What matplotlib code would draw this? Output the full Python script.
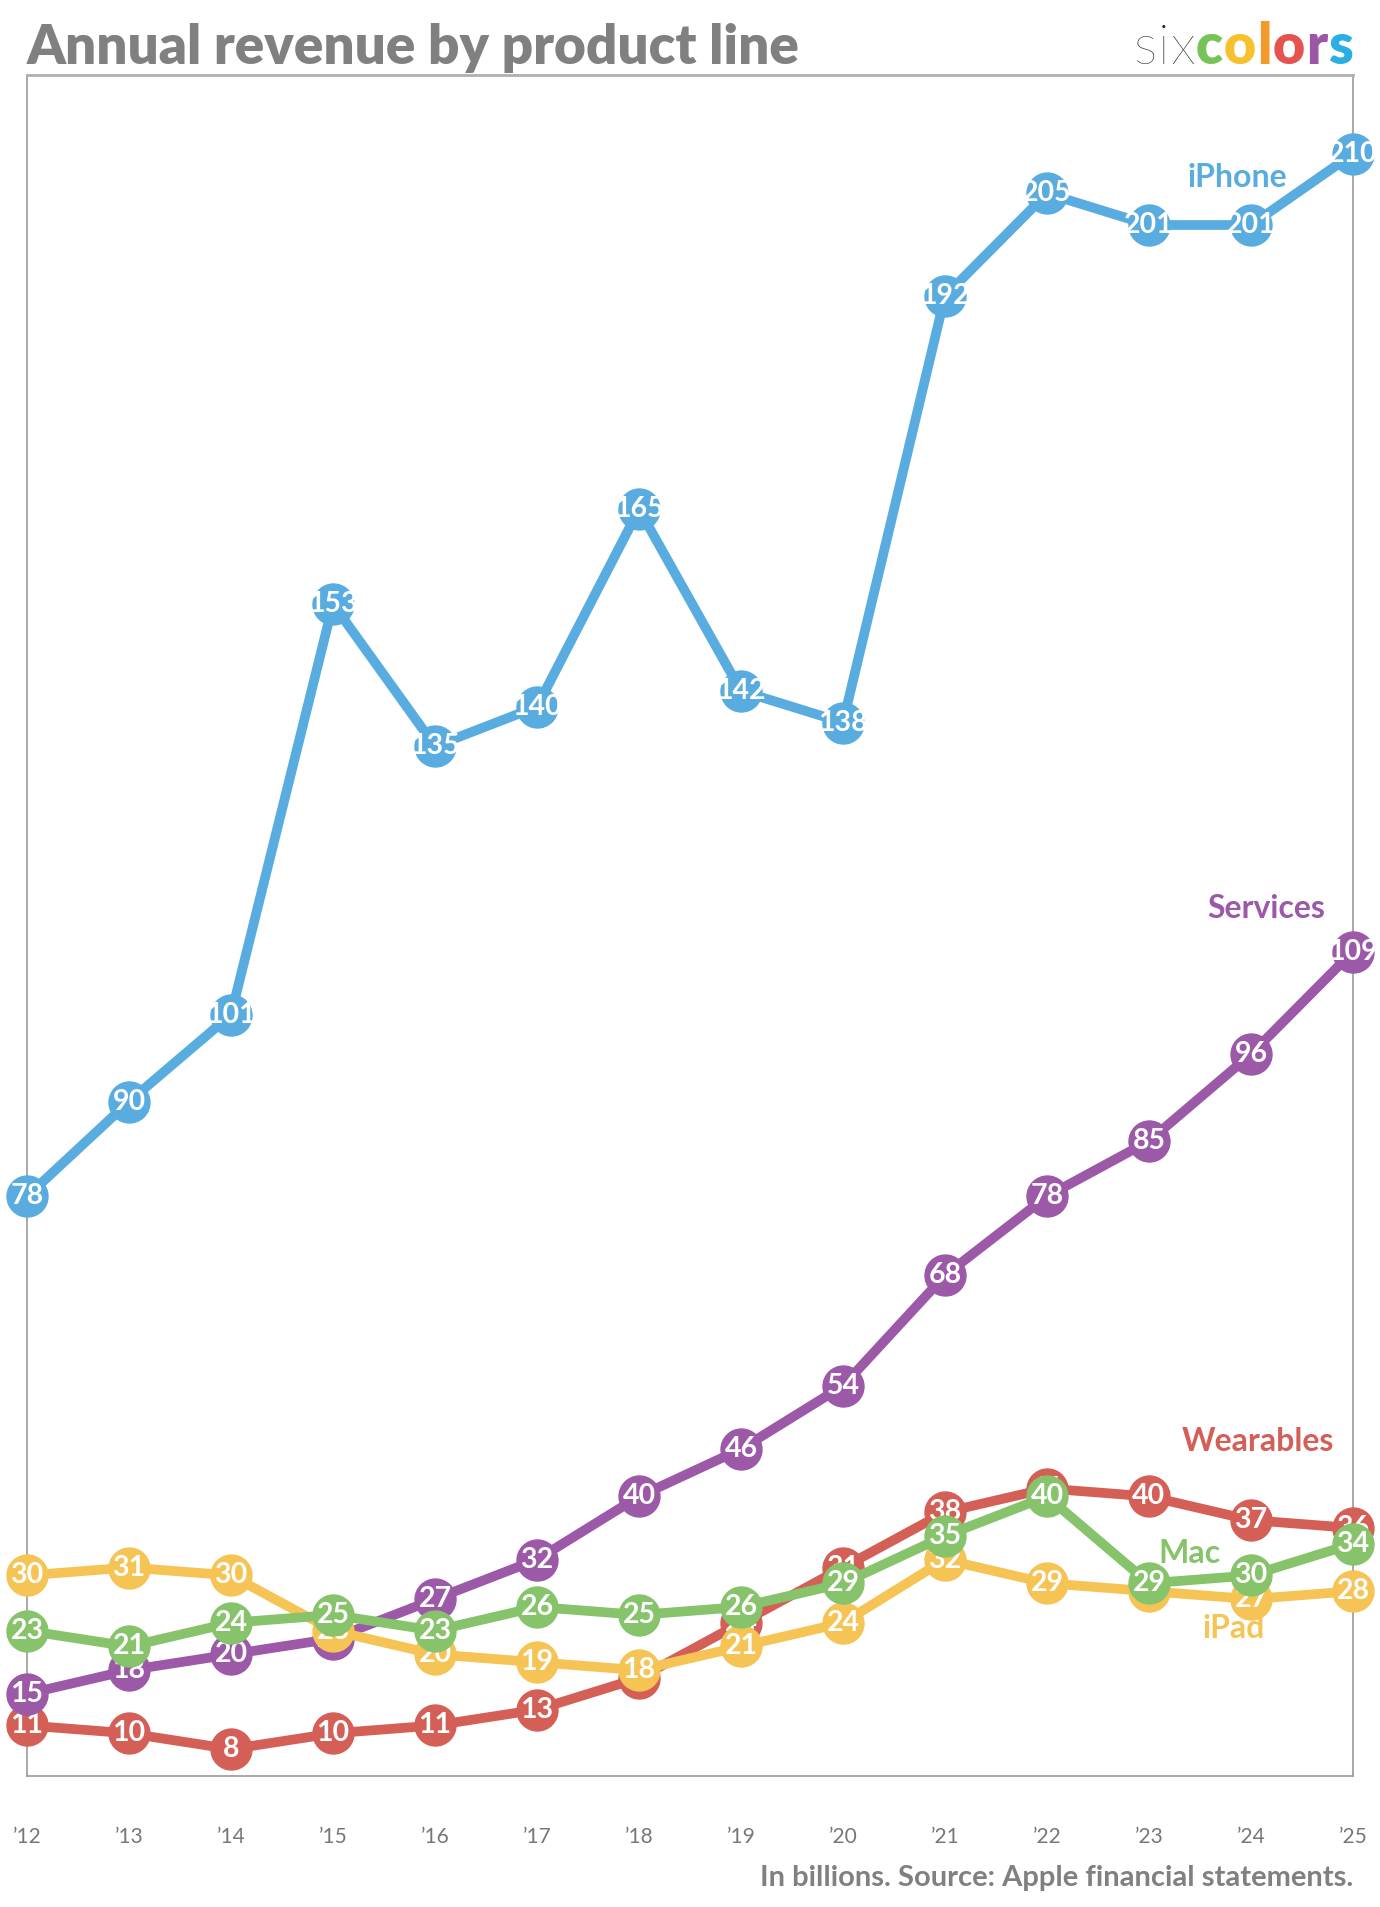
import numpy as np
import matplotlib.pyplot as plt

# data (billions USD)
years = np.arange(2012, 2026)
year_labels = ["\u2019" + str(y)[2:] for y in years]

iphone = [78, 90, 101, 153, 135, 140, 165, 142, 138, 192, 205, 201, 201, 210]
services = [15, 18, 20, 22, 27, 32, 40, 46, 54, 68, 78, 85, 96, 109]
wearables = [11, 10, 8, 10, 11, 13, 17, 24, 31, 38, 41, 40, 37, 36]
mac = [23, 21, 24, 25, 23, 26, 25, 26, 29, 35, 40, 29, 30, 34]
ipad = [30, 31, 30, 23, 20, 19, 18, 21, 24, 32, 29, 28, 27, 28]

series_names = ["iPhone", "Wearables", "Services", "iPad", "Mac"]
series_values = [iphone, wearables, services, ipad, mac]
colors = {"iPhone": "#58acdf", "Services": "#9b59a8", "Wearables": "#d45f56",
          "Mac": "#86c36a", "iPad": "#f5c454"}
# where the series names sit (year, value)
name_pos = {"iPhone": (2023.87, 207), "Services": (2024.15, 114.5),
            "Wearables": (2024.07, 47), "Mac": (2023.4, 32.8), "iPad": (2023.83, 23.3)}

font = ["Lato", "DejaVu Sans"]
gray = "#808080"

fig = plt.figure(figsize=(13.8, 19.07), dpi=100)
ax = fig.add_axes([0.0196, 0.0687, 0.9608, 0.892])

for z, (name, vals) in enumerate(zip(series_names, series_values)):
    c = colors[name]
    ax.plot(years, vals, color=c, lw=7, zorder=2 + z * 2, clip_on=False,
            solid_capstyle="round")
    ax.plot(years, vals, "o", color=c, ms=29.5, zorder=3 + z * 2, clip_on=False)
    for x, v in zip(years, vals):
        ax.text(x, v, str(v), color="white", fontsize=20.5, fontweight="bold",
                family=font, ha="center", va="center", zorder=3 + z * 2)
    nx, ny = name_pos[name]
    ax.text(nx, ny, name, color=c, fontsize=23, fontweight="bold", family=font,
            ha="center", va="center", zorder=20)

ax.set_xlim(2012, 2025)
ax.set_ylim(4.6, 220)
ax.set_yticks([])
ax.set_xticks(years)
ax.set_xticklabels(year_labels, fontsize=15, color="#777777", family=font)
ax.tick_params(axis="x", length=0, pad=37)
for s in ax.spines.values():
    s.set_color("#999999")
    s.set_linewidth(1.2)
ax.spines["top"].set_linewidth(2)
ax.spines["top"].set_color("#b0b0b0")

# title and footer
fig.text(0.0196, 0.9665, "Annual revenue by product line", fontsize=39.5,
         fontweight="heavy", color=gray, family=font, va="baseline")
fig.text(0.9804, 0.011, "In billions. Source: Apple financial statements.",
         fontsize=21, fontweight="bold", color=gray, family=font,
         ha="right", va="baseline")

# logo: "six" thin, "colors" in colours
logo = [("s", "#222222", "light"), ("i", "#222222", "light"), ("x", "#222222", "light"),
        ("c", "#78c25a", "heavy"), ("o", "#f7c12e", "heavy"), ("l", "#f39a2a", "heavy"),
        ("o", "#e4534f", "heavy"), ("r", "#9b56a6", "heavy"), ("s", "#2aaee4", "heavy")]
renderer = fig.canvas.get_renderer()
pieces = []
for ch, c, w in logo:
    t = fig.text(0, 0.9665, ch, fontsize=40, color=c, fontweight=w,
                 family=font, va="baseline")
    w_px = t.get_window_extent(renderer=renderer).width / fig.bbox.width
    pieces.append((t, w_px))
total = sum(w for _, w in pieces) + 0.0008 * (len(pieces) - 1)
xpos = 0.9804 - total
for t, w in pieces:
    t.set_x(xpos)
    xpos += w + 0.0008

fig.savefig("out.png", dpi=100)
